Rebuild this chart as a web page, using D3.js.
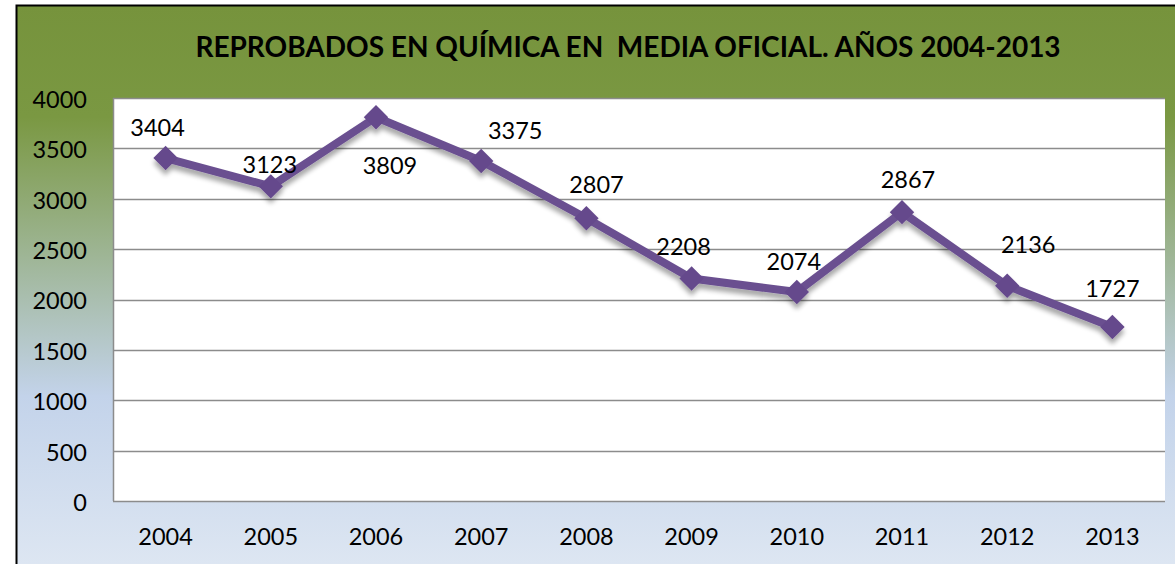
<!DOCTYPE html>
<html>
<head>
<meta charset="utf-8">
<script src="https://cdnjs.cloudflare.com/ajax/libs/d3/7.8.5/d3.min.js"></script>
<style>
  body { margin: 0; background: #fff; }
  text { font-family: Lato, "Open Sans", sans-serif; fill: #000; }
</style>
</head>
<body>
<div id="chart"></div>
<script>
// chart data
const years = ["2004", "2005", "2006", "2007", "2008", "2009", "2010", "2011", "2012", "2013"];
const reprobados = [3404, 3123, 3809, 3375, 2807, 2208, 2074, 2867, 2136, 1727];
const yTicks = [0, 500, 1000, 1500, 2000, 2500, 3000, 3500, 4000];
const title = "REPROBADOS EN QUÍMICA EN  MEDIA OFICIAL. AÑOS 2004-2013";
// where each data label sits relative to its point (dx, dy)
const labelOffsets = [[-8, -30], [-1, -22], [14, 49], [34, -30], [10, -33],
                      [-8, -32], [-3, -30], [6, -32], [21, -41], [0, -38]];

const width = 1175, height = 564;
const margin = {top: 98, right: 10, bottom: 63, left: 113};
const fontSize = "23.5px";

const svg = d3.select("#chart").append("svg")
  .attr("width", width)
  .attr("height", height);

const defs = svg.append("defs");
const bg = defs.append("linearGradient")
  .attr("id", "bg").attr("x1", 0).attr("y1", 0).attr("x2", 0).attr("y2", 1);
bg.append("stop").attr("offset", "0%").attr("stop-color", "#76933c");
bg.append("stop").attr("offset", "20%").attr("stop-color", "#7a9842");
bg.append("stop").attr("offset", "70%").attr("stop-color", "#c3d3ea");
bg.append("stop").attr("offset", "100%").attr("stop-color", "#dde6f2");

const shadow = defs.append("filter").attr("id", "shadow")
  .attr("x", "-20%").attr("y", "-20%").attr("width", "140%").attr("height", "160%");
shadow.append("feGaussianBlur").attr("in", "SourceAlpha").attr("stdDeviation", 2.5);
shadow.append("feOffset").attr("dx", 0).attr("dy", 5).attr("result", "off");
shadow.append("feComponentTransfer").append("feFuncA").attr("type", "linear").attr("slope", 0.35);
const merge = shadow.append("feMerge");
merge.append("feMergeNode");
merge.append("feMergeNode").attr("in", "SourceGraphic");

// background frame
svg.append("rect")
  .attr("x", 16).attr("y", 5)
  .attr("width", width - 16).attr("height", height - 5)
  .attr("fill", "url(#bg)");
svg.append("path")
  .attr("d", `M16.5,${height} V5.5 H${width}`)
  .attr("fill", "none").attr("stroke", "#000").attr("stroke-width", 2);

svg.append("text")
  .attr("x", 628).attr("y", 57)
  .attr("text-anchor", "middle")
  .style("font-weight", "bold")
  .style("font-size", "28px")
  .style("white-space", "pre")
  .text(title);

const x = d3.scaleBand()
  .domain(years)
  .range([margin.left, width - margin.right]);

const y = d3.scaleLinear()
  .domain([0, 4000])
  .range([height - margin.bottom, margin.top]);

// plot area
svg.append("rect")
  .attr("x", margin.left).attr("y", margin.top)
  .attr("width", width - margin.right - margin.left)
  .attr("height", height - margin.bottom - margin.top)
  .attr("fill", "#fff");

svg.append("g")
  .selectAll("line")
  .data(yTicks)
  .join("line")
  .attr("x1", margin.left).attr("x2", width - margin.right)
  .attr("y1", d => Math.round(y(d)) + 0.5).attr("y2", d => Math.round(y(d)) + 0.5)
  .attr("stroke", "#8c8c8c").attr("stroke-width", 1.5);

svg.append("line")
  .attr("x1", margin.left + 0.5).attr("x2", margin.left + 0.5)
  .attr("y1", margin.top).attr("y2", height - margin.bottom)
  .attr("stroke", "#8c8c8c").attr("stroke-width", 1.5);

const yAxis = svg.append("g")
  .attr("transform", `translate(${margin.left},0)`)
  .call(d3.axisLeft(y).tickValues(yTicks).tickFormat(d3.format("d")).tickSize(0).tickPadding(26));
yAxis.select(".domain").remove();
yAxis.selectAll("text").style("font-size", fontSize).attr("dy", "0.4em");

const xAxis = svg.append("g")
  .attr("transform", `translate(0,${height - margin.bottom})`)
  .call(d3.axisBottom(x).tickSize(0).tickPadding(27));
xAxis.select(".domain").remove();
xAxis.selectAll("text").style("font-size", fontSize);

// series
const pts = years.map((yr, i) => ({yr, v: reprobados[i], off: labelOffsets[i]}));
const cx = d => x(d.yr) + x.bandwidth() / 2;

const series = svg.append("g").attr("filter", "url(#shadow)");
series.append("path")
  .datum(pts)
  .attr("fill", "none")
  .attr("stroke", "#6a5090")
  .attr("stroke-width", 8)
  .attr("stroke-linejoin", "round")
  .attr("d", d3.line().x(cx).y(d => y(d.v)));

series.selectAll(".marker")
  .data(pts)
  .join("path")
  .attr("class", "marker")
  .attr("transform", d => `translate(${cx(d)},${y(d.v)})`)
  .attr("d", d3.symbol(d3.symbolDiamond2, 380)())
  .attr("fill", "#65498c");

svg.selectAll(".label")
  .data(pts)
  .join("text")
  .attr("class", "label")
  .attr("x", d => cx(d) + d.off[0])
  .attr("y", d => y(d.v) + d.off[1])
  .attr("dy", "0.35em")
  .attr("text-anchor", "middle")
  .style("font-size", fontSize)
  .text(d => d.v);
</script>
</body>
</html>
